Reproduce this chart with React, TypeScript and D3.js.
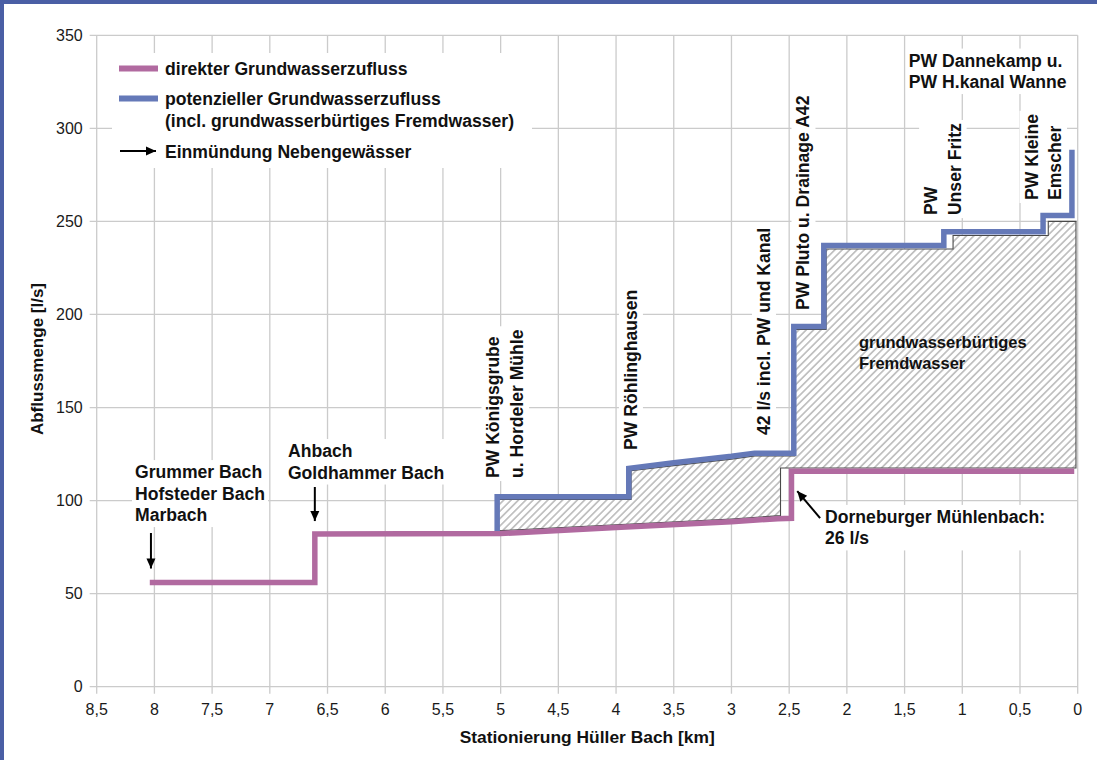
import React, { useEffect, useRef } from "react";
import * as d3 from "d3";

const WIDTH = 1097;
const HEIGHT = 760;

const FONT = "'Liberation Sans', Arial, Helvetica, sans-serif";
const FRAME = "#4a5fa5";
const GRID = "#cbcbcb";
const DIRECT = "#b16aa0";
const POTENTIAL = "#6579b8";
const INK = "#111111";
const LABEL_SIZE = 17.6;

// axis ticks
const xTickValues = [8.5, 8, 7.5, 7, 6.5, 6, 5.5, 5, 4.5, 4, 3.5, 3, 2.5, 2, 1.5, 1, 0.5, 0];
const yTickValues = [0, 50, 100, 150, 200, 250, 300, 350];

// direkter Grundwasserzufluss: Stationierung [km] / Abfluss [l/s]
const directKm = [8.04, 6.61, 6.61, 5.0, 4.0, 3.0, 2.6, 2.48, 2.48, 0.03];
const directFlow = [56, 56, 82, 82.3, 85.5, 88.6, 90.3, 90.5, 115.8, 115.8];

// potenzieller Grundwasserzufluss (incl. grundwasserbürtiges Fremdwasser)
const potentialKm = [5.03, 5.03, 3.89, 3.89, 3.5, 3.0, 2.8, 2.46, 2.46, 2.2, 2.2, 1.16, 1.16, 0.3, 0.3, 0.05, 0.05];
const potentialFlow = [82.3, 102, 102, 117.3, 120.3, 123.8, 125.5, 125.5, 193.5, 193.5, 237, 237, 244.4, 244.4, 253.2, 253.2, 288.5];

// Fläche grundwasserbürtiges Fremdwasser (Umriss)
const foreignKm = [5.02, 5.02, 3.87, 3.87, 3.5, 3.0, 2.8, 2.45, 2.45, 2.18, 2.18, 1.08, 1.08, 0.255, 0.255, 0.015, 0.015, 2.575, 2.575, 3.0, 4.0, 5.02];
const foreignFlow = [83.8, 100.6, 100.6, 116, 118.8, 122.3, 124, 124, 191.9, 191.9, 235.2, 235.2, 242.4, 242.4, 250, 250, 117.5, 117.5, 91.9, 90.1, 87, 83.8];

// horizontal annotations (first baseline at km / flow)
const horizontalLabels = [
  { lines: ["Grummer Bach", "Hofsteder Bach", "Marbach"], km: 8.168, flow: 112.1, size: LABEL_SIZE, box: true },
  { lines: ["Ahbach", "Goldhammer Bach"], km: 6.843, flow: 123.4, size: LABEL_SIZE, box: true },
  { lines: ["PW Dannekamp u.", "PW H.kanal Wanne"], km: 1.463, flow: 333.2, size: LABEL_SIZE, box: true },
  { lines: ["grundwasserbürtiges", "Fremdwasser"], km: 1.896, flow: 182.0, size: 16.5, box: false },
  { lines: ["Dorneburger Mühlenbach:", "26 l/s"], km: 2.189, flow: 88.0, size: LABEL_SIZE, box: true },
];

// vertical annotations (text reads upwards, first baseline at km, start at flow)
const verticalLabels = [
  { lines: ["PW Königsgrube", "u. Hordeler Mühle"], km: 5.01, flow: 112.1 },
  { lines: ["PW Röhlinghausen"], km: 3.819, flow: 127.2 },
  { lines: ["42 l/s incl. PW und Kanal"], km: 2.666, flow: 135.2 },
  { lines: ["PW Pluto u. Drainage A42"], km: 2.324, flow: 202.4 },
  { lines: ["PW", "Unser Fritz"], km: 1.218, flow: 253.4 },
  { lines: ["PW Kleine", "Emscher"], km: 0.348, flow: 261.5 },
];

// Einmündungen (Pfeile)
const arrowFromKm = [8.03, 6.61, 2.232];
const arrowFromFlow = [82.6, 107.3, 90.6];
const arrowToKm = [8.03, 6.61, 2.43];
const arrowToFlow = [63.5, 89.0, 105.1];

const legendLabels = [
  ["direkter Grundwasserzufluss"],
  ["potenzieller Grundwasserzufluss", "(incl. grundwasserbürtiges Fremdwasser)"],
  ["Einmündung Nebengewässer"],
];
const legendKinds = ["direct", "potential", "arrow"];

const fmt = (v: number) => String(v).replace(".", ",");

export default function App() {
  const ref = useRef<SVGSVGElement>(null);

  useEffect(() => {
    const svg = d3.select(ref.current);
    svg.selectAll("*").remove();

    const x = d3.scaleLinear().domain([8.5, 0]).range([96.7, 1077.7]);
    const y = d3.scaleLinear().domain([0, 350]).range([686.7, 35.3]);

    svg.append("rect").attr("width", WIDTH).attr("height", HEIGHT).attr("fill", "#fff");
    svg.append("rect").attr("width", WIDTH).attr("height", 4).attr("fill", FRAME);
    svg.append("rect").attr("width", 4).attr("height", HEIGHT).attr("fill", FRAME);

    const defs = svg.append("defs");
    const pat = defs
      .append("pattern")
      .attr("id", "hatch")
      .attr("patternUnits", "userSpaceOnUse")
      .attr("width", 5.2)
      .attr("height", 5.2)
      .attr("patternTransform", "rotate(45)");
    pat.append("rect").attr("width", 5.2).attr("height", 5.2).attr("fill", "#fff");
    pat
      .append("line")
      .attr("x1", 2.6)
      .attr("x2", 2.6)
      .attr("y1", 0)
      .attr("y2", 5.2)
      .attr("stroke", "#939393")
      .attr("stroke-width", 1);
    defs
      .append("marker")
      .attr("id", "head")
      .attr("markerUnits", "userSpaceOnUse")
      .attr("viewBox", "0 0 10 10")
      .attr("markerWidth", 11)
      .attr("markerHeight", 10)
      .attr("refX", 10)
      .attr("refY", 5)
      .attr("orient", "auto")
      .append("path")
      .attr("d", "M0,0.5 L10,5 L0,9.5 z")
      .attr("fill", "#000");

    // grid
    const grid = svg.append("g").attr("stroke", GRID).attr("stroke-width", 1.3);
    grid
      .selectAll("line.v")
      .data(xTickValues)
      .join("line")
      .attr("x1", (d) => x(d))
      .attr("x2", (d) => x(d))
      .attr("y1", y(350))
      .attr("y2", y(0) + 7);
    grid
      .selectAll("line.h")
      .data(yTickValues)
      .join("line")
      .attr("x1", x(8.5) - 7)
      .attr("x2", x(0))
      .attr("y1", (d) => y(d))
      .attr("y2", (d) => y(d));

    // tick labels
    const ticks = svg.append("g").attr("font-family", FONT).attr("font-size", 16).attr("fill", "#1a1a1a");
    ticks
      .selectAll("text.x")
      .data(xTickValues)
      .join("text")
      .attr("x", (d) => x(d))
      .attr("y", y(0) + 28)
      .attr("text-anchor", "middle")
      .text((d) => fmt(d));
    ticks
      .selectAll("text.y")
      .data(yTickValues)
      .join("text")
      .attr("x", x(8.5) - 14)
      .attr("y", (d) => y(d) + 5.5)
      .attr("text-anchor", "end")
      .text((d) => String(d));

    // axis titles
    svg
      .append("text")
      .attr("transform", `translate(${43},${359}) rotate(-90)`)
      .attr("text-anchor", "middle")
      .attr("font-family", FONT)
      .attr("font-weight", "bold")
      .attr("font-size", 17)
      .attr("fill", INK)
      .text("Abflussmenge [l/s]");
    svg
      .append("text")
      .attr("x", (x(8.5) + x(0)) / 2)
      .attr("y", 743)
      .attr("text-anchor", "middle")
      .attr("font-family", FONT)
      .attr("font-weight", "bold")
      .attr("font-size", 17.4)
      .attr("fill", INK)
      .text("Stationierung Hüller Bach [km]");

    // legend background
    svg.append("rect").attr("x", 112).attr("y", 53).attr("width", 420).attr("height", 115).attr("fill", "#fff");

    // label layer (backgrounds are inserted under the text)
    const boxLayer = svg.append("g");
    const dataLayer = svg.append("g");
    const textLayer = svg.append("g").attr("font-family", FONT).attr("fill", INK);

    const addBox = (g: any, target: any, transform: string) => {
      const bb = (g.node() as SVGGElement).getBBox();
      target
        .append("rect")
        .attr("transform", transform)
        .attr("x", bb.x - 3)
        .attr("y", bb.y - 2)
        .attr("width", bb.width + 6)
        .attr("height", bb.height + 4)
        .attr("fill", "#fff");
    };

    horizontalLabels.forEach((lab) => {
      const tr = `translate(${x(lab.km)},${y(lab.flow)})`;
      const g = textLayer.append("g").attr("transform", tr);
      lab.lines.forEach((line, i) => {
        g.append("text")
          .attr("x", 0)
          .attr("y", i * 21.5)
          .attr("font-size", lab.size)
          .attr("font-weight", "bold")
          .text(line);
      });
      if (lab.box) addBox(g, boxLayer, tr);
    });

    verticalLabels.forEach((lab) => {
      const tr = `translate(${x(lab.km)},${y(lab.flow)}) rotate(-90)`;
      const g = textLayer.append("g").attr("transform", tr);
      lab.lines.forEach((line, i) => {
        g.append("text")
          .attr("x", 0)
          .attr("y", i * 23.5)
          .attr("font-size", LABEL_SIZE)
          .attr("font-weight", "bold")
          .text(line);
      });
      addBox(g, boxLayer, tr);
    });

    // hatched area
    const foreignPts = foreignKm.map((k, i) => [x(k), y(foreignFlow[i])] as [number, number]);
    dataLayer
      .append("path")
      .attr("d", d3.line()(foreignPts) + "Z")
      .attr("fill", "url(#hatch)")
      .attr("stroke", "#4a4a4a")
      .attr("stroke-width", 1.1)
      .attr("stroke-linejoin", "miter");

    const directPts = directKm.map((k, i) => [x(k), y(directFlow[i])] as [number, number]);
    const potentialPts = potentialKm.map((k, i) => [x(k), y(potentialFlow[i])] as [number, number]);
    dataLayer
      .append("path")
      .attr("d", d3.line()(potentialPts))
      .attr("fill", "none")
      .attr("stroke", POTENTIAL)
      .attr("stroke-width", 5.5)
      .attr("stroke-linejoin", "miter");
    dataLayer
      .append("path")
      .attr("d", d3.line()(directPts))
      .attr("fill", "none")
      .attr("stroke", DIRECT)
      .attr("stroke-width", 5.5)
      .attr("stroke-linejoin", "miter");

    // tributary arrows
    arrowFromKm.forEach((k, i) => {
      dataLayer
        .append("line")
        .attr("x1", x(k))
        .attr("y1", y(arrowFromFlow[i]))
        .attr("x2", x(arrowToKm[i]))
        .attr("y2", y(arrowToFlow[i]))
        .attr("stroke", "#000")
        .attr("stroke-width", 2)
        .attr("marker-end", "url(#head)");
    });

    // legend
    const legend = svg.append("g").attr("font-family", FONT).attr("fill", INK);
    const symbolY = [68.5, 98.5, 151];
    legendKinds.forEach((kind, i) => {
      const sy = symbolY[i];
      if (kind === "arrow") {
        legend
          .append("line")
          .attr("x1", 120)
          .attr("x2", 156)
          .attr("y1", sy)
          .attr("y2", sy)
          .attr("stroke", "#000")
          .attr("stroke-width", 2)
          .attr("marker-end", "url(#head)");
      } else {
        legend
          .append("line")
          .attr("x1", 119)
          .attr("x2", 158)
          .attr("y1", sy)
          .attr("y2", sy)
          .attr("stroke", kind === "direct" ? DIRECT : POTENTIAL)
          .attr("stroke-width", 6);
      }
      legendLabels[i].forEach((t, j) => {
        legend
          .append("text")
          .attr("x", 165)
          .attr("y", sy + 6.5 + j * 22)
          .attr("font-size", LABEL_SIZE)
          .attr("font-weight", "bold")
          .text(t);
      });
    });
  }, []);

  return (
    <svg
      ref={ref}
      width={WIDTH}
      height={HEIGHT}
      style={{ position: "absolute", left: 0, top: 0, display: "block" }}
    />
  );
}
